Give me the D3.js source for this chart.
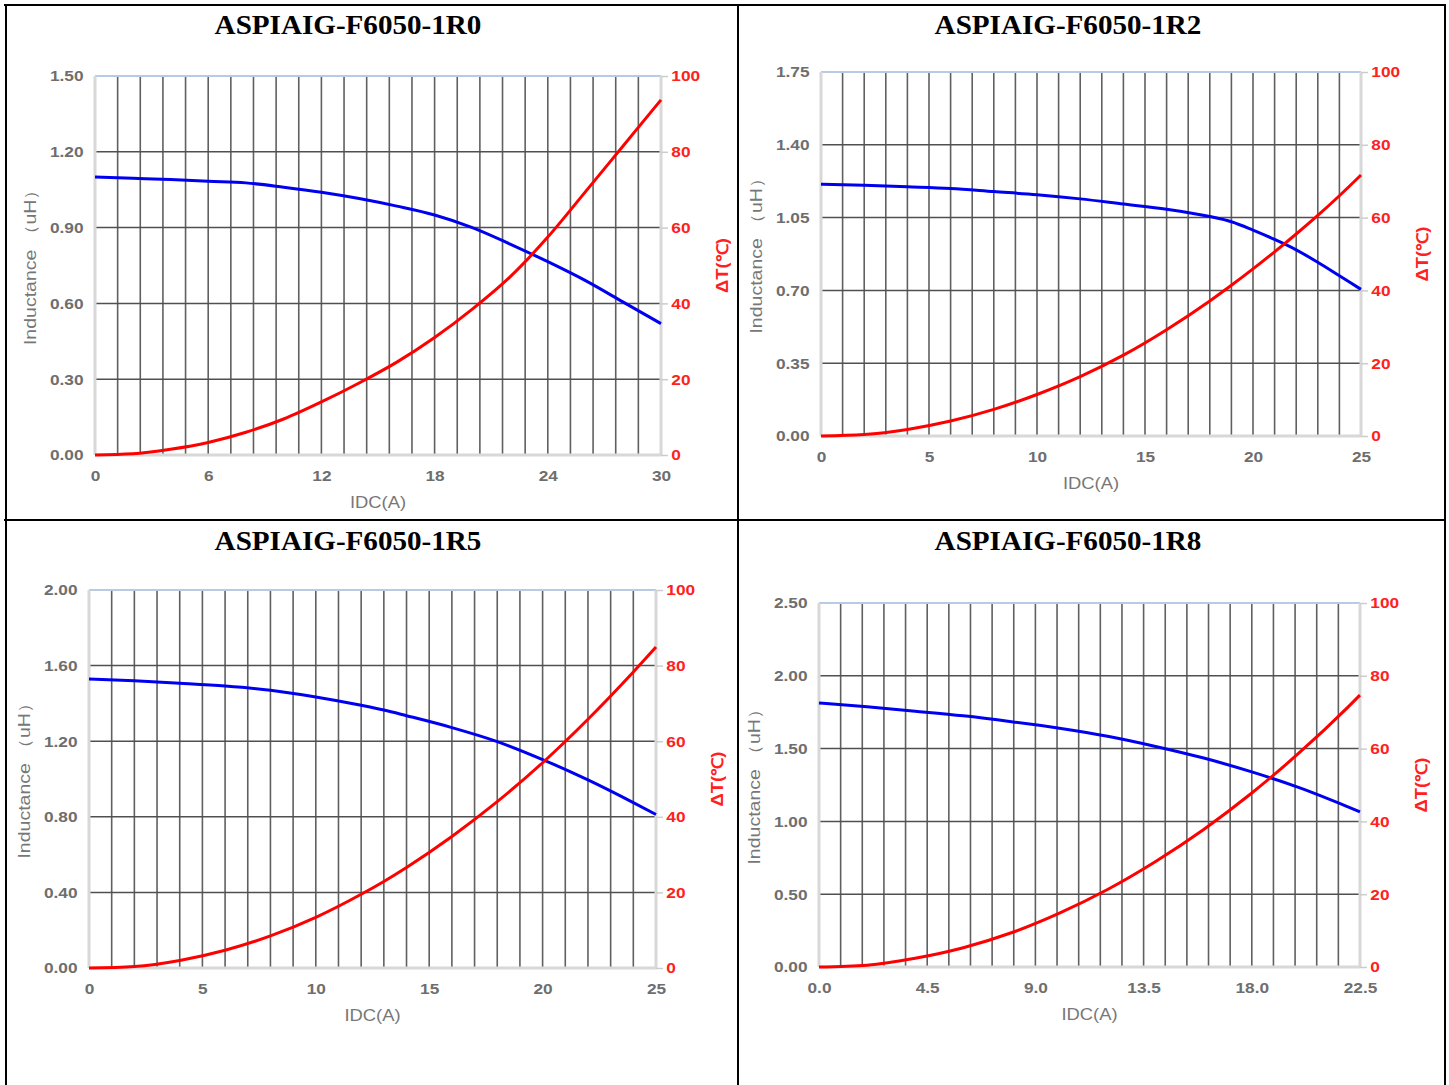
<!DOCTYPE html>
<html>
<head>
<meta charset="utf-8">
<script src="https://cdn.jsdelivr.net/npm/d3@7"></script>
<style>
body { margin: 0; background: #fff; }
svg { display: block; }
</style>
</head>
<body>
<svg id="svg" width="1449" height="1085"></svg>
<script>
// 四个型号的电感/温升曲线
var titles = ['ASPIAIG-F6050-1R0', 'ASPIAIG-F6050-1R2', 'ASPIAIG-F6050-1R5', 'ASPIAIG-F6050-1R8']

var idc1R0 = [0, 2, 4, 6, 8, 10, 12, 14, 16, 18, 20, 22, 24, 26, 28, 30]
var ind1R0 = [1.10, 1.095, 1.09, 1.083, 1.077, 1.06, 1.04, 1.015, 0.985, 0.95, 0.90, 0.835, 0.765, 0.69, 0.605, 0.52]
var dt1R0 = [0, 0.3, 1.5, 3.3, 6, 9.5, 14, 19, 24.5, 31, 38.5, 47, 57.5, 69.5, 81.6, 93.7]
var xTicks1R0 = [0, 6, 12, 18, 24, 30]
var yTicks1R0 = [0, 0.30, 0.60, 0.90, 1.20, 1.50]

var idc1R2 = [0, 2, 4, 6, 8, 10, 12, 14, 16, 18, 19, 20, 21, 22, 23, 24, 25]
var ind1R2 = [1.21, 1.205, 1.198, 1.19, 1.175, 1.16, 1.14, 1.115, 1.09, 1.055, 1.03, 0.99, 0.945, 0.895, 0.835, 0.77, 0.705]
var dt1R2 = [0, 0.4, 1.8, 4.1, 7.3, 11.4, 16.3, 22.2, 29.2, 37.1, 41.4, 45.9, 50.6, 55.5, 60.6, 66, 71.7]
var xTicks1R2 = [0, 5, 10, 15, 20, 25]
var yTicks1R2 = [0, 0.35, 0.70, 1.05, 1.40, 1.75]

var idc1R5 = [0, 2, 4, 6, 8, 10, 12, 13, 14, 16, 18, 20, 22, 24, 25]
var ind1R5 = [1.529, 1.52, 1.507, 1.492, 1.47, 1.434, 1.39, 1.365, 1.335, 1.272, 1.198, 1.103, 0.995, 0.875, 0.812]
var dt1R5 = [0, 0.4, 2, 4.7, 8.5, 13.4, 19.5, 22.9, 26.6, 34.8, 44, 54.3, 65.8, 78.3, 84.9]
var xTicks1R5 = [0, 5, 10, 15, 20, 25]
var yTicks1R5 = [0, 0.40, 0.80, 1.20, 1.60, 2.00]

var idc1R8 = [0, 2, 4, 6, 8, 10, 12, 14, 16, 18, 20, 22, 22.5]
var ind1R8 = [1.813, 1.787, 1.757, 1.725, 1.685, 1.64, 1.585, 1.515, 1.435, 1.34, 1.23, 1.10, 1.066]
var dt1R8 = [0, 0.5, 2.4, 5.3, 9.4, 14.8, 21.3, 29, 37.8, 47.8, 59, 71.4, 74.7]
var xTicks1R8 = [0, 4.5, 9.0, 13.5, 18.0, 22.5]
var yTicks1R8 = [0, 0.50, 1.00, 1.50, 2.00, 2.50]

var dtTicks = [0, 20, 40, 60, 80, 100]

var svg = d3.select('#svg')

// 每张小图在页面上的位置
var layout = [
    { left: 95, right: 661, top: 76, bottom: 455, cx: 348, ty: 24 },
    { left: 821, right: 1361, top: 72, bottom: 436, cx: 1068, ty: 24 },
    { left: 89, right: 656, top: 590, bottom: 968, cx: 348, ty: 540 },
    { left: 819, right: 1360, top: 603, bottom: 967, cx: 1068, ty: 540 }
]

var charts = [
    { idc: idc1R0, ind: ind1R0, dt: dt1R0, xTicks: xTicks1R0, yTicks: yTicks1R0, xFmt: 'd' },
    { idc: idc1R2, ind: ind1R2, dt: dt1R2, xTicks: xTicks1R2, yTicks: yTicks1R2, xFmt: 'd' },
    { idc: idc1R5, ind: ind1R5, dt: dt1R5, xTicks: xTicks1R5, yTicks: yTicks1R5, xFmt: 'd' },
    { idc: idc1R8, ind: ind1R8, dt: dt1R8, xTicks: xTicks1R8, yTicks: yTicks1R8, xFmt: '.1f' }
]

var sans = '"Liberation Sans", Arial, sans-serif'

// 表格线
var cellLines = [[4, 5, 1446, 5], [6, 4, 6, 1085], [1445, 4, 1445, 1085], [738, 4, 738, 1085], [4, 520, 1446, 520]]
svg.selectAll('.cell').data(cellLines).enter().append('line')
    .attr('x1', function(d) { return d[0] })
    .attr('y1', function(d) { return d[1] })
    .attr('x2', function(d) { return d[2] })
    .attr('y2', function(d) { return d[3] })
    .style('stroke', '#000')
    .style('stroke-width', 2)

function drawChart(c, p, title) {

    var g = svg.append('g')
    var xMax = c.xTicks[c.xTicks.length - 1]
    var x = d3.scaleLinear().domain([0, xMax]).range([p.left, p.right])
    var yL = d3.scaleLinear().domain([0, c.yTicks[c.yTicks.length - 1]]).range([p.bottom, p.top])
    var yT = d3.scaleLinear().domain([0, 100]).range([p.bottom, p.top])

    // 标题
    g.append('text')
        .attr('transform', 'translate(' + p.cx + ',' + (p.ty + 10) + ') scale(1.04,1)')
        .attr('text-anchor', 'middle')
        .style('font-family', '"Liberation Serif", "Times New Roman", serif')
        .style('font-weight', 'bold')
        .style('font-size', '28px')
        .text(title)

    // 竖向网格，25 格
    var vgrid = d3.range(1, 25).map(function(i) { return xMax * i / 25 })
    g.selectAll('.vgrid').data(vgrid).enter().append('line')
        .attr('x1', function(d) { return x(d) }).attr('x2', function(d) { return x(d) })
        .attr('y1', p.top).attr('y2', p.bottom)
        .style('stroke', '#606060')
        .style('stroke-width', 1.6)

    // 横向网格
    g.selectAll('.hgrid').data(c.yTicks.slice(1, -1)).enter().append('line')
        .attr('x1', p.left).attr('x2', p.right)
        .attr('y1', function(d) { return yL(d) }).attr('y2', function(d) { return yL(d) })
        .style('stroke', '#505050')
        .style('stroke-width', 1.5)

    // 边框
    g.append('line').attr('x1', p.left).attr('x2', p.right).attr('y1', p.top).attr('y2', p.top)
        .style('stroke', '#b8cbe4').style('stroke-width', 2)
    g.append('line').attr('x1', p.left).attr('x2', p.right).attr('y1', p.bottom).attr('y2', p.bottom)
        .style('stroke', '#d8d8d8').style('stroke-width', 3)
    g.append('line').attr('x1', p.left).attr('x2', p.left).attr('y1', p.top).attr('y2', p.bottom)
        .style('stroke', '#d8d8d8').style('stroke-width', 3)
    g.append('line').attr('x1', p.right).attr('x2', p.right).attr('y1', p.top).attr('y2', p.bottom)
        .style('stroke', '#d8d8d8').style('stroke-width', 3)

    // 坐标轴
    var left = g.append('g').attr('transform', 'translate(' + p.left + ',0)')
        .call(d3.axisLeft(yL).tickValues(c.yTicks).tickFormat(d3.format('.2f')).tickSize(0).tickPadding(10))
    var right = g.append('g').attr('transform', 'translate(' + p.right + ',0)')
        .call(d3.axisRight(yT).tickValues(dtTicks).tickSize(7).tickPadding(2))
    var bottom = g.append('g').attr('transform', 'translate(0,' + p.bottom + ')')
        .call(d3.axisBottom(x).tickValues(c.xTicks).tickFormat(d3.format(c.xFmt)).tickSize(0).tickPadding(15))

    ;[left, right, bottom].forEach(function(a) {
        a.select('.domain').remove()
        a.selectAll('text')
            .attr('transform', 'scale(1.15,1)')
            .style('font-family', sans)
            .style('font-size', '15px')
            .style('font-weight', 'bold')
            .style('fill', '#6e6e6e')
    })
    right.selectAll('line').style('stroke', '#ccc').style('stroke-width', 1.5)
    right.selectAll('text').style('fill', '#ff2020')

    // 轴标题
    var midY = (p.top + p.bottom) / 2
    g.append('text')
        .attr('transform', 'translate(' + (p.left - 59) + ',' + (midY - 3) + ') rotate(-90) scale(1.22,1)')
        .attr('text-anchor', 'middle')
        .style('font-family', sans)
        .style('font-size', '16px')
        .style('fill', '#777')
        .text('Inductance （uH）')
    g.append('text')
        .attr('transform', 'translate(' + (p.right + 67) + ',' + midY + ') rotate(-90) scale(1.15,1)')
        .attr('text-anchor', 'middle')
        .style('font-family', sans)
        .style('font-size', '16px')
        .style('font-weight', 'bold')
        .style('fill', '#ff2020')
        .text('ΔT(℃)')
    g.append('text')
        .attr('transform', 'translate(' + ((p.left + p.right) / 2) + ',' + (p.bottom + 53) + ') scale(1.15,1)')
        .attr('text-anchor', 'middle')
        .style('font-family', sans)
        .style('font-size', '16px')
        .style('fill', '#777')
        .text('IDC(A)')

    // 曲线
    var indLine = d3.line()
        .x(function(d, i) { return x(c.idc[i]) })
        .y(function(d) { return yL(d) })
        .curve(d3.curveMonotoneX)
    var dtLine = d3.line()
        .x(function(d, i) { return x(c.idc[i]) })
        .y(function(d) { return yT(d) })
        .curve(d3.curveMonotoneX)

    g.append('path').datum(c.ind).attr('d', indLine)
        .style('fill', 'none').style('stroke', '#0000f0').style('stroke-width', 3)
    g.append('path').datum(c.dt).attr('d', dtLine)
        .style('fill', 'none').style('stroke', '#ff0000').style('stroke-width', 3)
}

for (var i = 0; i < charts.length; i++) {
    drawChart(charts[i], layout[i], titles[i])
}
</script>
</body>
</html>
